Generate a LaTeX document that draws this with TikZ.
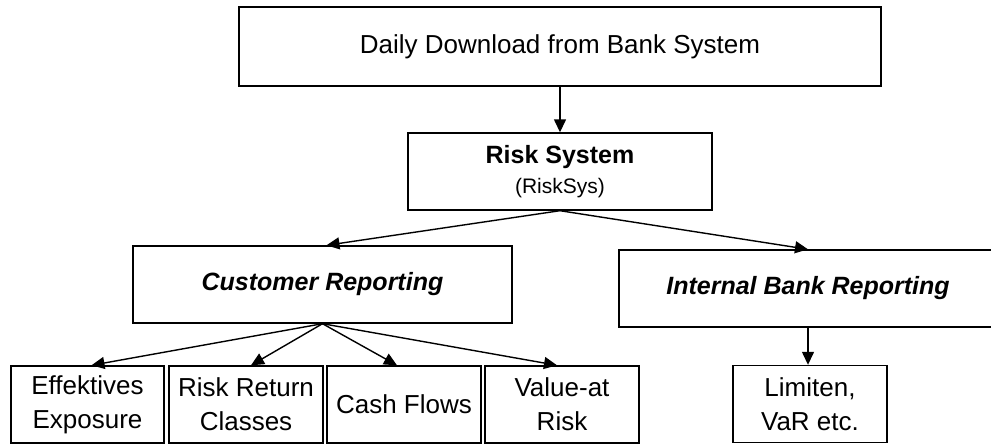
\documentclass[tikz,border=0pt]{standalone}
\usepackage{fontspec}
\setmainfont{Liberation Sans}
\usetikzlibrary{arrows.meta,calc}
\begin{document}
\begin{tikzpicture}[x=1pt,y=-1pt,
  box/.style={draw, line width=1.4pt, inner sep=0pt, minimum height=77pt, align=center,
    font=\fontsize{26}{34}\selectfont},
  arr/.style={-{Triangle[length=13pt,width=12pt]}, line width=1.4pt}]
\useasboundingbox (0,0) rectangle (991,444);
\clip (0,0) rectangle (991,444);
\fill[white] (0,0) rectangle (991,444);
\node[box, minimum width=642pt, minimum height=79pt] (top) at (560,46.5) {Daily Download from Bank System};
\node[box, minimum width=304pt, font=\fontsize{25}{30}\selectfont] (risk) at (560,171.5)
  {{\bfseries Risk System}\\{\fontsize{21}{25}\selectfont (RiskSys)}};
\node[box, minimum width=379pt, font=\fontsize{25}{30}\selectfont\bfseries\itshape] (cust) at (322.5,284.5) {Customer Reporting};
\node[box, minimum width=378pt, font=\fontsize{25}{30}\selectfont\bfseries\itshape] (intl) at (808,288.5) {Internal Bank Reporting};
\node[box, minimum width=153pt] (b1) at (87.5,404.5) {Effektives\\Exposure};
\node[box, minimum width=154pt] (b2) at (246,404.5) {Risk Return\\Classes};
\node[box, minimum width=154pt] (b3) at (404,404.5) {Cash Flows};
\node[box, minimum width=154pt] (b4) at (562,404.5) {Value-at\\Risk};
\node[box, minimum width=154pt] (lim) at (810,404) {Limiten,\\VaR etc.};
\draw[arr] (top.south) -- (risk.north);
\draw[arr] (risk.south) -- ($(cust.north)+(4,0)$);
\draw[arr] (risk.south) -- (intl.north);
\draw[arr] (cust.south) -- ($(b1.north)+(4,0)$);
\draw[arr] (cust.south) -- ($(b2.north)+(5,0)$);
\draw[arr] (cust.south) -- ($(b3.north)+(-7,0)$);
\draw[arr] (cust.south) -- ($(b4.north)+(-5,0)$);
\draw[arr] (intl.south) -- (intl.south |- lim.north);
\end{tikzpicture}
\end{document}
